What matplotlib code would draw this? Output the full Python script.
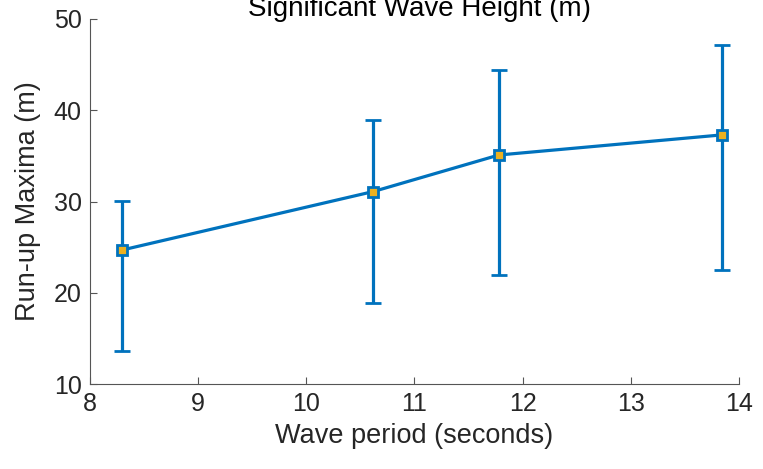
import numpy as np
import matplotlib
matplotlib.use('Agg')
import matplotlib.pyplot as plt

# wave period (s) vs run-up maxima (m)
periods = [8.30, 10.62, 11.78, 13.84]
runup_mean = [24.7, 31.1, 35.1, 37.3]
runup_low = [13.6, 18.9, 21.9, 22.5]
runup_high = [30.1, 38.9, 44.4, 47.2]

xticks = [8, 9, 10, 11, 12, 13, 14]
yticks = [10, 20, 30, 40, 50]

plt.rcParams['font.family'] = ['Liberation Sans', 'DejaVu Sans']

blue = '#0072BD'
yellow = '#EDB120'
axcol = '#262626'

fig = plt.figure(figsize=(7.63, 4.69), dpi=100)
ax = fig.add_axes([0.118, 0.181, 0.8505, 0.7785])

mean = np.array(runup_mean)
err = [mean - np.array(runup_low), np.array(runup_high) - mean]
ax.errorbar(periods, runup_mean, yerr=err, color=blue, lw=2.3, elinewidth=2.3,
            capsize=6, capthick=2.3, marker='s', ms=7, mfc=yellow, mec=blue, mew=2)

ax.set_xlim(8, 14)
ax.set_ylim(10, 50)
ax.set_xticks(xticks)
ax.set_yticks(yticks)
ax.spines['top'].set_visible(False)
ax.spines['right'].set_visible(False)
for s in ['left', 'bottom']:
    ax.spines[s].set_color('#555555')
    ax.spines[s].set_linewidth(0.8)
ax.tick_params(direction='in', length=5, width=0.8, colors='#555555',
               labelcolor=axcol, labelsize=18, pad=6)

ax.set_xlabel('Wave period (seconds)', fontsize=19.5, color=axcol, labelpad=5)
ax.set_ylabel('Run-up Maxima (m)', fontsize=19.5, color=axcol, labelpad=9)
ax.text(0.507, 1.008, 'Significant Wave Height (m)', transform=ax.transAxes,
        ha='center', va='baseline', fontsize=20, color='black')

fig.savefig('out.png', dpi=100)
